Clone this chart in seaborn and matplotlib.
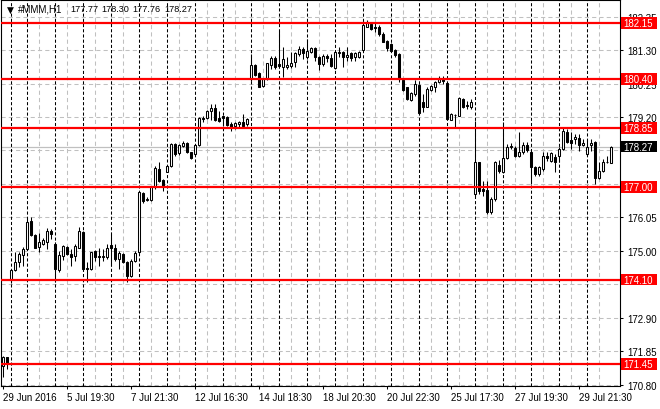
import numpy as np
import matplotlib
matplotlib.use("Agg")
import matplotlib.pyplot as plt
import matplotlib.transforms as mtransforms
from matplotlib.patches import Rectangle
import seaborn as sns

symbol = "#MMM,H1"

opens = [171.38, 171.66, 174.10, 174.41, 174.64, 174.87, 175.06, 175.94, 175.50, 175.11,
         175.22, 175.29, 175.63, 175.22, 174.41, 174.83, 175.12, 174.90, 174.83, 175.10,
         175.58, 174.46, 174.43, 174.99, 174.85, 174.82, 174.82, 175.18, 175.09, 174.74,
         174.89, 174.66, 174.22, 174.67, 174.95, 176.81, 176.60, 176.59, 176.99, 177.57,
         177.23, 177.48, 177.65, 178.35, 178.06, 178.28, 178.38, 178.09, 178.03, 178.33,
         179.18, 179.17, 179.40, 179.47, 179.17, 179.23, 179.19, 178.98, 178.92, 178.98,
         179.03, 178.98, 180.39, 180.83, 180.57, 180.18, 180.39, 180.84, 181.04, 180.86,
         180.76, 180.76, 180.81, 180.92, 181.18, 181.34, 181.07, 181.23, 181.37, 181.09,
         180.86, 181.12, 181.05, 180.73, 181.20, 181.23, 181.07, 181.20, 181.07, 181.07,
         181.30, 182.04, 182.12, 182.03, 182.04, 181.80, 181.57, 181.49, 181.30, 181.18,
         180.36, 180.13, 179.73, 179.92, 180.21, 179.66, 179.53, 180.05, 180.15, 180.29,
         180.39, 180.26, 179.12, 179.27, 179.24, 179.77, 179.58, 179.50, 176.79, 177.78,
         176.94, 176.92, 176.21, 176.63, 177.70, 177.48, 177.90, 178.27, 178.22, 177.97,
         178.09, 178.32, 178.09, 177.62, 177.41, 177.57, 177.97, 177.83, 177.93, 177.99,
         178.20, 178.74, 178.49, 178.51, 178.53, 178.32, 178.04, 178.32, 178.43, 177.29,
         177.52, 177.80, 177.77]
highs = [171.71, 171.66, 174.43, 174.95, 174.95, 175.11, 176.05, 176.05, 175.53, 175.56,
         175.39, 175.71, 175.69, 175.27, 175.01, 175.18, 175.16, 175.06, 175.22, 175.74,
         175.63, 174.64, 174.97, 175.04, 175.08, 175.06, 175.22, 175.53, 175.22, 175.01,
         174.93, 174.69, 174.75, 175.01, 176.89, 176.86, 176.68, 177.05, 177.65, 177.78,
         177.25, 177.67, 178.38, 178.40, 178.36, 178.44, 178.42, 178.11, 178.36, 179.19,
         179.24, 179.42, 179.61, 179.61, 179.40, 179.24, 179.24, 179.03, 179.04, 179.06,
         179.28, 179.16, 181.18, 180.86, 180.60, 180.44, 180.91, 181.12, 181.12, 181.91,
         181.39, 181.07, 181.23, 181.25, 181.44, 181.39, 181.65, 181.41, 181.39, 181.12,
         181.18, 181.18, 181.18, 181.26, 181.39, 181.28, 181.41, 181.23, 181.23, 181.26,
         182.12, 182.24, 182.17, 182.14, 182.10, 181.86, 181.62, 181.51, 181.33, 181.20,
         180.39, 180.15, 179.99, 180.36, 180.24, 179.92, 180.13, 180.21, 180.34, 180.50,
         180.50, 180.29, 179.33, 179.30, 179.82, 179.80, 179.71, 179.77, 179.09, 177.80,
         177.20, 177.20, 176.68, 177.83, 177.85, 179.03, 178.35, 178.38, 178.30, 178.72,
         178.41, 178.41, 178.14, 177.67, 177.67, 178.09, 178.09, 178.09, 178.04, 178.25,
         178.84, 178.82, 178.72, 178.67, 178.67, 178.51, 178.49, 178.51, 178.46, 177.78,
         177.88, 177.99, 178.30]
lows = [171.03, 171.29, 174.00, 174.38, 174.48, 174.53, 175.04, 175.48, 175.08, 174.97,
        175.19, 175.06, 175.37, 174.01, 174.35, 174.72, 174.87, 174.52, 174.69, 175.08,
        174.38, 174.01, 174.41, 174.69, 174.52, 174.69, 174.74, 174.54, 174.69, 174.43,
        174.62, 174.03, 174.17, 174.66, 174.93, 176.50, 176.57, 176.57, 176.94, 177.15,
        176.89, 177.46, 177.63, 177.98, 178.02, 178.26, 178.07, 177.87, 178.01, 178.30,
        179.05, 179.15, 179.10, 179.06, 179.03, 178.93, 178.93, 178.75, 178.82, 178.88,
        178.90, 178.92, 180.34, 180.50, 180.13, 180.15, 180.37, 180.71, 180.71, 180.76,
        180.45, 180.71, 180.74, 180.78, 181.13, 181.02, 181.02, 181.20, 180.97, 180.68,
        180.81, 180.92, 180.78, 180.71, 181.09, 180.78, 180.97, 180.97, 180.97, 181.05,
        181.28, 182.01, 181.93, 181.86, 181.75, 181.54, 181.28, 181.24, 181.07, 180.29,
        180.03, 179.73, 179.69, 179.87, 179.29, 179.35, 179.50, 180.03, 180.00, 180.26,
        180.24, 179.14, 179.10, 178.88, 179.22, 179.48, 179.45, 179.45, 176.73, 176.78,
        176.73, 176.16, 176.16, 176.58, 177.45, 177.45, 177.88, 178.20, 177.94, 177.94,
        178.04, 178.11, 177.10, 177.36, 177.36, 177.52, 177.83, 177.78, 177.46, 177.78,
        178.18, 178.39, 178.20, 178.35, 178.14, 178.28, 178.01, 178.14, 177.10, 177.26,
        177.49, 177.76, 177.76]
closes = [171.66, 171.48, 174.41, 174.64, 174.90, 175.06, 175.90, 175.50, 175.10, 175.27,
          175.34, 175.63, 175.54, 174.43, 174.87, 175.14, 174.91, 174.82, 175.14, 175.62,
          174.43, 174.43, 174.95, 174.80, 174.82, 174.84, 175.10, 175.10, 174.74, 174.93,
          174.64, 174.22, 174.69, 174.93, 176.86, 176.57, 176.62, 176.99, 177.59, 177.20,
          177.02, 177.65, 178.35, 178.04, 178.32, 178.38, 178.09, 177.90, 178.32, 179.16,
          179.13, 179.40, 179.47, 179.11, 179.06, 179.17, 178.96, 178.90, 179.01, 179.03,
          178.93, 179.13, 180.83, 180.52, 180.15, 180.39, 180.88, 181.04, 180.78, 180.81,
          181.02, 180.84, 180.91, 181.20, 181.34, 181.20, 181.26, 181.37, 181.07, 180.86,
          181.12, 181.04, 180.81, 181.23, 181.23, 181.09, 181.16, 181.05, 181.20, 181.23,
          182.09, 182.17, 181.96, 181.99, 181.80, 181.56, 181.37, 181.26, 181.16, 180.39,
          180.05, 179.77, 179.95, 180.24, 179.32, 179.53, 180.08, 180.18, 180.29, 180.39,
          180.34, 179.14, 179.30, 179.26, 179.79, 179.50, 179.56, 179.68, 177.78, 176.89,
          176.89, 176.21, 176.63, 177.80, 177.50, 177.90, 178.25, 178.30, 177.97, 178.11,
          178.32, 178.18, 177.62, 177.41, 177.62, 177.99, 177.90, 178.06, 177.80, 178.20,
          178.77, 178.41, 178.38, 178.56, 178.32, 178.38, 178.25, 178.40, 177.28, 177.52,
          177.78, 177.80, 178.27]

time_labels = ["29 Jun 2016", "5 Jul 19:30", "7 Jul 21:30", "12 Jul 16:30", "14 Jul 18:30",
               "18 Jul 20:30", "20 Jul 22:30", "25 Jul 17:30", "27 Jul 19:30", "29 Jul 21:30"]
time_label_bars = [0, 16, 32, 48, 64, 80, 96, 112, 128, 144]
price_ticks = [170.80, 171.85, 172.90, 173.95, 175.00, 176.05, 177.10, 178.15,
               179.20, 180.25, 181.30, 182.35]
# tick labels fully hidden behind the price boxes in the reference
hidden_tick_labels = [173.95, 177.10, 178.15]
level_prices = [182.15, 180.40, 178.85, 177.00, 174.10, 171.45]
day_start_bars = [2, 6, 13, 20, 27, 34, 41, 48, 55, 62, 69, 76, 83, 90, 97, 104,
                  111, 118, 125, 132, 139, 146]
grid_bars = [9, 16, 23, 30, 37, 44, 51, 58, 65, 72, 79, 86, 93, 100, 107, 114,
             121, 128, 135, 142, 149]

sns.set_theme(style="white")
plt.rcParams['font.family'] = ['Liberation Sans', 'DejaVu Sans']

W, H = 660, 410
fig = plt.figure(figsize=(W / 100, H / 100), dpi=100)
fig.patch.set_facecolor("white")
ax = fig.add_axes([1 / W, 23 / H, 619 / W, 386 / H])
ax.set_facecolor("white")

o = np.array(opens); h = np.array(highs); l = np.array(lows); c = np.array(closes)
x = np.arange(len(o))

ax.set_xlim(-0.575, 154.175)
ax.set_ylim(170.76, 182.872)

grid_c = "#c0c0c0"
for p in price_ticks:
    ax.axhline(p, color=grid_c, lw=0.75, ls=(0, (4, 3)), zorder=1)
for b in grid_bars:
    ax.axvline(b, color=grid_c, lw=0.75, ls=(0, (4, 3)), zorder=1)
for b in day_start_bars:
    ax.axvline(b, color="black", lw=0.75, ls=(0, (3, 2)), zorder=2)

# current price line
ax.axhline(c[-1], color=grid_c, lw=0.9, zorder=1.5)

# candles
ax.vlines(x, l, h, color="black", lw=0.75, zorder=3)
up = c >= o
bottoms = np.minimum(o, c)
heights = np.maximum(np.abs(c - o), 0.004)
ax.bar(x, heights, bottom=bottoms, width=0.5,
       color=np.where(up, "white", "black"), edgecolor="black",
       linewidth=0.75, zorder=4)

# horizontal levels
for p in level_prices:
    ax.axhline(p, color="#ff0000", lw=1.6, zorder=5)

# axes styling
for s in ax.spines.values():
    s.set_color("black")
    s.set_linewidth(0.8)
ax.yaxis.tick_right()
ax.set_yticks(price_ticks)
ax.set_yticklabels(["" if p in hidden_tick_labels else f"{p:.2f}" for p in price_ticks])
ax.set_xticks(time_label_bars)
ax.set_xticklabels(time_labels, ha="left")
ax.tick_params(axis="y", which="both", direction="out", length=2.5, width=0.75,
               pad=2.5, labelsize=7, colors="black", right=True, left=False)
ax.tick_params(axis="x", which="both", direction="out", length=2.5, width=0.75,
               pad=2.0, labelsize=7, colors="black", bottom=True)
ax.grid(False)

# price labels on the right
bt = mtransforms.blended_transform_factory(ax.transAxes, ax.transData)
box_h = 0.36
for p in level_prices:
    ax.add_patch(Rectangle((1.0016, p - box_h / 2), 0.0585, box_h, transform=bt,
                           facecolor="#ff0000", edgecolor="none", clip_on=False, zorder=10))
    ax.text(1.0055, p, f"{p:.2f}", transform=bt, color="white", fontsize=7,
            ha="left", va="center", zorder=11, clip_on=False)
ax.add_patch(Rectangle((1.0016, c[-1] - box_h / 2), 0.0585, box_h, transform=bt,
                       facecolor="black", edgecolor="none", clip_on=False, zorder=10))
ax.text(1.0055, c[-1], f"{c[-1]:.2f}", transform=bt, color="white", fontsize=7,
        ha="left", va="center", zorder=11, clip_on=False)

# header
hy = 1 - 9 / 386
ax.text(9.5 / 619, hy, "\u25bc", transform=ax.transAxes, fontsize=6.5, ha="center",
        va="center", color="black", zorder=12, family="DejaVu Sans")
ax.text(17 / 619, hy, symbol, transform=ax.transAxes, fontsize=7, ha="left",
        va="center", color="black", zorder=12)
for xp, val in zip([69, 100, 131, 163], [o[-1], h[-1], l[-1], c[-1]]):
    ax.text(xp / 619, hy, f"{val:.2f}", transform=ax.transAxes, fontsize=6.6,
            ha="left", va="center", color="black", zorder=12)

fig.savefig("out.png", dpi=100, facecolor="white")
